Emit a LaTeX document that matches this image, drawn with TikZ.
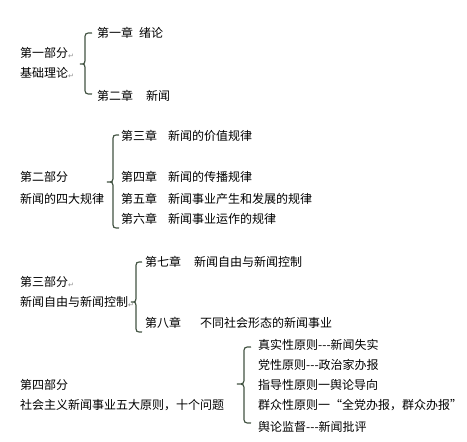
\documentclass[tikz,border=0pt]{standalone}
\usepackage{fontspec}
\setmainfont{Noto Sans CJK SC}
\newfontfamily\symfont{DejaVu Sans}
\definecolor{bracecol}{HTML}{435443}
\definecolor{markcol}{HTML}{8A8A8A}
\newcommand{\pmark}{{\symfont\fontsize{7}{7}\selectfont\color{markcol}\raisebox{-0.5pt}{↵}}}
\newcommand{\lbr}[6]{% xv, top, mid, bot, xt, xr
  \draw[bracestyle] (#6,#2) .. controls (#1,#2) .. (#1,#2+7) -- (#1,#3-7)
    .. controls (#1,#3) .. (#5,#3) .. controls (#1,#3) .. (#1,#3+7)
    -- (#1,#4-7) .. controls (#1,#4) .. (#6,#4);}
\begin{document}
\begin{tikzpicture}[x=1pt,y=-1pt,
  txt/.style={anchor=west,inner sep=0pt,font=\fontsize{12}{12}\selectfont},
  bracestyle/.style={draw=bracecol,line width=1.2pt}]
\useasboundingbox[fill=white] (0,0) rectangle (467,442);
% Part 1
\node[txt] (p1a) at (20,53) {第一部分\pmark};
\node[txt] (p1b) at (20,73) {基础理论\pmark};
\lbr{85}{33}{64}{94}{80}{92}
\node[txt] (c1) at (97,33) {第一章\hspace{6pt}绪论};
\node[txt] (c2) at (97,96) {第二章\hspace{13pt}新闻};
% Part 2
\node[txt] (p2a) at (20,177) {第二部分};
\node[txt] (p2b) at (20,199) {新闻的四大规律};
\lbr{113}{135}{182}{228}{107}{119}
\node[txt] (c3) at (121,136) {第三章\hspace{11pt}新闻的价值规律};
\node[txt] (c4) at (121,177) {第四章\hspace{11pt}新闻的传播规律};
\node[txt] (c5) at (121,199) {第五章\hspace{11pt}新闻事业产生和发展的规律};
\node[txt] (c6) at (121,219) {第六章\hspace{11pt}新闻事业运作的规律};
% Part 3
\node[txt] (p3a) at (20,282) {第三部分\pmark};
\node[txt] (p3b) at (20,302) {新闻自由与新闻控制\pmark};
\lbr{136}{262}{302}{332}{131}{142}
\node[txt] (c7) at (145,262) {第七章\hspace{13pt}新闻自由与新闻控制};
\node[txt] (c8) at (145,323) {第八章\hspace{19pt}不同社会形态的新闻事业};
% Part 4
\node[txt] (p4a) at (20,385) {第四部分};
\node[txt] (p4b) at (20,405) {社会主义新闻事业五大原则，十个问题};
\lbr{244}{347}{384}{423}{237}{251}
\node[txt] (r1) at (258,345) {真实性原则-{}-{}-新闻失实};
\node[txt] (r2) at (258,365) {党性原则-{}-{}-政治家办报};
\node[txt] (r3) at (258,385) {指导性原则一舆论导向};
\node[txt] (r4) at (258,405) {群众性原则一“全党办报，群众办报”};
\node[txt] (r5) at (258,427) {舆论监督-{}-{}-新闻批评};
\end{tikzpicture}
\end{document}
